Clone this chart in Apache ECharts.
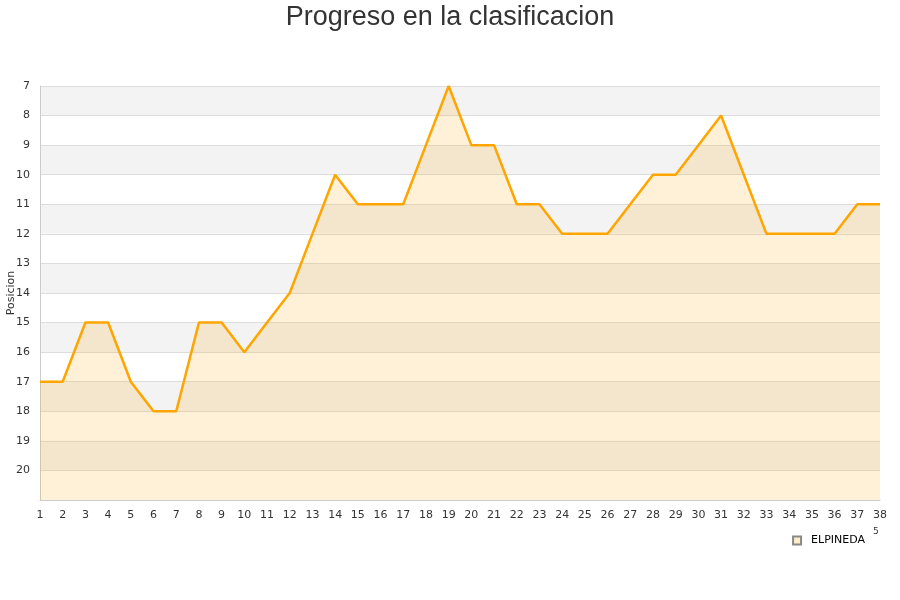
<!DOCTYPE html>
<html><head><meta charset="utf-8">
<script src="https://cdn.jsdelivr.net/npm/echarts@6/dist/echarts.min.js"></script>
<style>html,body{margin:0;padding:0;background:#fff}#c{width:900px;height:600px}</style>
</head><body><div id="c"></div>
<script>
const jornadas = [1,2,3,4,5,6,7,8,9,10,11,12,13,14,15,16,17,18,19,20,21,22,23,24,25,26,27,28,29,30,31,32,33,34,35,36,37,38];
const posiciones = [17,17,15,15,17,18,18,15,15,16,15,14,12,10,11,11,11,9,7,9,9,11,11,12,12,12,11,10,10,9,8,10,12,12,12,12,11,11];
const serieNombre = 'ELPINEDA';
const titulo = 'Progreso en la clasificacion';

const chart = echarts.init(document.getElementById('c'));
chart.setOption({
  animation: false,
  title: { text: titulo, left: 'center', top: -1, textStyle: { fontFamily: 'Liberation Sans, Arial, sans-serif', fontSize: 27, fontWeight: 'normal', color: '#333' } },
  grid: { left: 40, right: 20, top: 86, bottom: 100, containLabel: false, outerBoundsMode: 'none' },
  legend: {
    data: [serieNombre], right: 30, top: 530, icon: 'rect', itemWidth: 8, itemHeight: 8,
    textStyle: { fontFamily: 'DejaVu Sans, sans-serif', fontSize: 11, color: '#000', padding: [0, 0, 0, 5] }
  },
  xAxis: {
    type: 'category', data: jornadas, boundaryGap: false,
    axisLine: { lineStyle: { color: '#ccc' } }, axisTick: { show: false },
    axisLabel: { color: '#333', fontFamily: 'DejaVu Sans, sans-serif', fontSize: 11, margin: 10, interval: 0 },
    splitLine: { show: false }
  },
  yAxis: {
    type: 'value', inverse: true, min: 7, max: 21, interval: 1,
    name: 'Posicion', nameLocation: 'middle', nameGap: 23, nameRotate: 90, nameMoveOverlap: false,
    nameTextStyle: { color: '#333', fontFamily: 'DejaVu Sans, sans-serif', fontSize: 11 },
    axisLine: { show: true, lineStyle: { color: '#ccc' } }, axisTick: { show: false },
    axisLabel: { color: '#333', fontFamily: 'DejaVu Sans, sans-serif', fontSize: 11, margin: 10,
      formatter: v => v === 21 ? '' : String(v) },
    splitLine: { lineStyle: { color: '#ddd' } },
    splitArea: { show: true, areaStyle: { color: ['#f3f3f3', '#ffffff'] } }
  },
  series: [{
    name: serieNombre, type: 'line', data: posiciones, symbol: 'none',
    lineStyle: { color: '#ffa500', width: 2.5 },
    itemStyle: { color: '#ffecc8', borderColor: '#888', borderWidth: 1 },
    areaStyle: { color: 'rgba(255,165,0,0.22)', origin: 'end' }
  }],
  graphic: [{ type: 'text', left: 873, top: 527, style: { text: '5', font: '9px DejaVu Sans', fill: '#333' } }]
});
</script></body></html>
